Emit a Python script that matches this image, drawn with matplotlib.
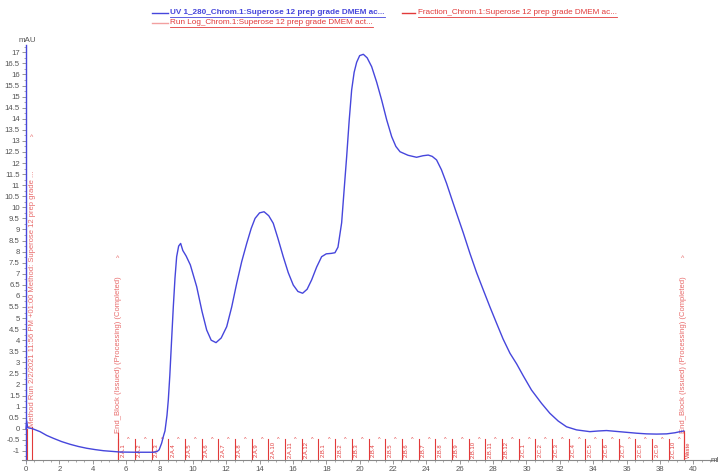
import matplotlib
matplotlib.use("Agg")
import matplotlib.pyplot as plt
from matplotlib.lines import Line2D
from matplotlib.ticker import MultipleLocator

plt.rcParams['font.family'] = ['Liberation Sans', 'DejaVu Sans']

# ---------------- data ----------------
uv_ml = [0.0, 0.04, 0.1, 0.4, 0.84, 1.24, 1.64, 2.14, 2.64, 3.14, 3.64, 4.14, 4.64,
         5.14, 5.64, 6.6, 7.63, 7.85, 7.98, 8.13, 8.25, 8.33, 8.45, 8.53, 8.62, 8.72,
         8.83, 8.93, 9.03, 9.15, 9.27, 9.4, 9.6, 9.85, 10.23, 10.55, 10.83, 11.1,
         11.39, 11.7, 12.03, 12.33, 12.63, 12.93, 13.23, 13.5, 13.73, 14.0, 14.27,
         14.55, 14.82, 15.1, 15.42, 15.72, 16.02, 16.3, 16.58, 16.85, 17.12, 17.42,
         17.72, 18.0, 18.3, 18.52, 18.7, 18.92, 19.07, 19.22, 19.37, 19.52, 19.67,
         19.82, 20.0, 20.22, 20.45, 20.72, 21.02, 21.32, 21.62, 21.92, 22.17, 22.42,
         22.9, 23.41, 23.8, 24.11, 24.35, 24.61, 24.9, 25.21, 25.51, 25.81, 26.21,
         26.61, 27.01, 27.41, 27.81, 28.21, 28.6, 29.01, 29.41, 29.8, 30.3, 30.9,
         31.4, 31.9, 32.4, 33.0, 33.8, 34.3, 34.8, 35.4, 36.0, 36.6, 37.2, 37.8,
         38.4, 38.9, 39.2, 39.43]
uv_mau = [0.0, 0.35, 0.05, 0.0, -0.13, -0.3, -0.43, -0.58, -0.7, -0.8, -0.88, -0.94,
          -0.99, -1.02, -1.05, -1.06, -1.06, -1.03, -0.95, -0.65, -0.3, -0.1, 0.6, 1.3,
          2.4, 3.9, 5.51, 6.8, 7.77, 8.25, 8.37, 8.05, 7.8, 7.4, 6.42, 5.3, 4.46, 4.0,
          3.89, 4.1, 4.61, 5.5, 6.57, 7.55, 8.37, 9.05, 9.5, 9.75, 9.8, 9.62, 9.28,
          8.6, 7.77, 7.05, 6.49, 6.2, 6.12, 6.3, 6.72, 7.3, 7.77, 7.9, 7.92, 7.95,
          8.2, 9.3, 10.8, 12.28, 13.9, 15.3, 16.1, 16.55, 16.85, 16.91, 16.75, 16.35,
          15.65, 14.84, 13.95, 13.19, 12.75, 12.51, 12.35, 12.26, 12.33, 12.36, 12.3,
          12.14, 11.7, 11.08, 10.4, 9.73, 8.85, 7.92, 7.05, 6.27, 5.5, 4.76, 4.05,
          3.41, 2.93, 2.4, 1.75, 1.15, 0.7, 0.35, 0.09, -0.05, -0.13, -0.1, -0.08,
          -0.12, -0.16, -0.2, -0.23, -0.24, -0.23, -0.18, -0.13, -0.1]

fraction_start = [5.53, 6.53, 7.53, 8.53, 9.53, 10.53, 11.53, 12.53, 13.53, 14.53,
                  15.53, 16.53, 17.53, 18.53, 19.53, 20.53, 21.53, 22.53, 23.53,
                  24.53, 25.53, 26.53, 27.53, 28.53, 29.53, 30.53, 31.53, 32.53,
                  33.53, 34.53, 35.53, 36.53, 37.53, 38.53]
fraction_labels = (["2.A.%d" % i for i in range(1, 13)] +
                   ["2.B.%d" % i for i in range(1, 13)] +
                   ["2.C.%d" % i for i in range(1, 11)])
waste_ml = 39.43
waste_label = "Waste"

event_ml = [0.36, 5.53, 39.43]
event_text = ["Method Run 2/2/2021 11:56 PM +01:00 Method: Superose 12 prep grade ...",
              "End_Block (Issued) (Processing) (Completed)",
              "End_Block (Issued) (Processing) (Completed)"]

legend_uv = "UV 1_280_Chrom.1:Superose 12 prep grade DMEM ac..."
legend_frac = "Fraction_Chrom.1:Superose 12 prep grade DMEM ac..."
legend_log = "Run Log_Chrom.1:Superose 12 prep grade DMEM act..."

# ---------------- style ----------------
W, H = 723, 472
BLUE = '#4646dc'
RED = '#e23a3a'
LRED = '#e86a6a'
GREY = '#555555'

fig = plt.figure(figsize=(W / 100, H / 100), dpi=100)
ax = fig.add_axes([22 / W, 1 - 460 / H, (715 - 22) / W, (460 - 45) / H])
ax.set_xlim(-0.24, 41.3)
ax.set_ylim(-1.41, 17.33)

ax.plot(uv_ml, uv_mau, color=BLUE, lw=1.0, zorder=5)

# spines
for s in ['top', 'right']:
    ax.spines[s].set_visible(False)
ax.spines['left'].set_position(('data', 0))
ax.spines['left'].set_color(BLUE)
ax.spines['left'].set_linewidth(1.0)
ax.spines['bottom'].set_color('#888888')
ax.spines['bottom'].set_linewidth(0.8)

ax.xaxis.set_major_locator(MultipleLocator(2))
ax.xaxis.set_minor_locator(MultipleLocator(0.5))
ax.yaxis.set_minor_locator(MultipleLocator(0.25))
ax.set_yticks([v * 0.5 for v in range(-2, 35)])
ax.set_yticklabels(['%g' % (v * 0.5) for v in range(-2, 35)])
ax.tick_params(axis='both', which='major', labelsize=5.6, labelcolor=GREY,
               color='#888888', length=3, width=0.6, pad=1.5)
ax.tick_params(axis='both', which='minor', color='#888888', length=1.5, width=0.5)

# initial event line
ax.plot([0.05, 0.05], [-1.41, 0.0], color=RED, lw=0.8, zorder=4)

# fraction markers
for xf, lab in zip(fraction_start, fraction_labels):
    ax.plot([xf, xf], [-1.41, -0.47], color=RED, lw=0.8, zorder=4)
    ax.text(xf + 0.28, -0.95, lab, rotation=90, fontsize=4.2, color=RED,
            ha='center', va='center', zorder=4)
    ax.text(xf + 0.62, -0.5, '^', fontsize=4, color=RED, ha='center', va='center')

ax.plot([waste_ml, waste_ml], [-1.41, -0.1], color=RED, lw=0.8, zorder=4)
ax.text(waste_ml + 0.28, -0.95, waste_label, rotation=90, fontsize=4.2, color=RED,
        ha='center', va='center')

# event texts
event_top = [13.17, 7.67, 7.67]
event_base = [0.08, -0.2, -0.2]
for xe, txt, yt, yb in zip(event_ml, event_text, event_top, event_base):
    ax.plot([xe, xe], [-1.41, yb], color=RED, lw=0.8, zorder=4)
    ax.text(xe, yb, txt, rotation=90, fontsize=5.5, color=LRED,
            ha='center', va='bottom')
    ax.text(xe - 0.05, yt, '^', fontsize=5, color=LRED, ha='center', va='center')

# axis unit labels
fig.text(19 / W, 1 - 41 / H, 'mAU', fontsize=5.8, color=GREY, ha='left', va='center')
fig.text(711 / W, 1 - 461 / H, 'ml', fontsize=5.8, color=GREY, ha='left', va='center')

# legend (top, figure coords)
def fx(px):
    return px / W

def fy(py):
    return 1 - py / H

fig.add_artist(Line2D([fx(152), fx(168)], [fy(12.5), fy(12.5)], color=BLUE, lw=1.0))
t1 = fig.text(fx(170), fy(12.5), legend_uv, fontsize=5.9, fontweight='bold',
              color=BLUE, ha='left', va='center')
fig.add_artist(Line2D([fx(402), fx(415)], [fy(12.5), fy(12.5)], color=RED, lw=1.0))
t2 = fig.text(fx(418), fy(12.5), legend_frac, fontsize=5.9, color=RED,
              ha='left', va='center')
fig.add_artist(Line2D([fx(152), fx(168)], [fy(22.5), fy(22.5)], color='#f2a0a0', lw=1.0))
t3 = fig.text(fx(170), fy(22.5), legend_log, fontsize=5.9, color=RED,
              ha='left', va='center')

fig.canvas.draw()
r = fig.canvas.get_renderer()
for t, c, yy in [(t1, BLUE, 16.5), (t2, RED, 16.5), (t3, RED, 26.5)]:
    bb = t.get_window_extent(r)
    fig.add_artist(Line2D([bb.x0 / W, bb.x1 / W], [fy(yy), fy(yy)], color=c, lw=0.6))

fig.savefig('out.png', dpi=100)
